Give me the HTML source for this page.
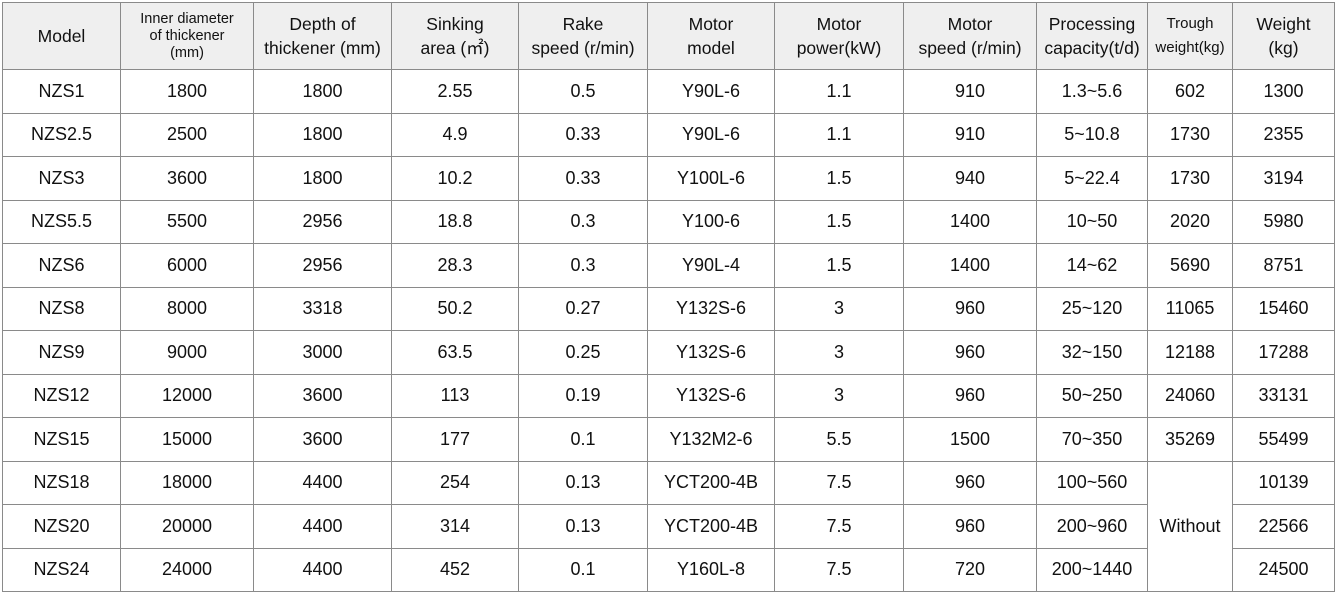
<!DOCTYPE html>
<html><head><meta charset="utf-8"><style>
body{margin:0;background:#fff;width:1337px;height:592px;overflow:hidden}
table{position:absolute;left:2px;top:2px;border-collapse:collapse;table-layout:fixed;font-family:"Liberation Sans",sans-serif;color:#111}
td{border:1.5px solid #8a8a8a;text-align:center;vertical-align:middle;padding:0;font-size:18px;height:42.5px}
tr.h td{background:#efefef;height:66px;font-size:17.5px;line-height:24px}
</style></head><body>
<table>
<colgroup><col style="width:118px"><col style="width:133px"><col style="width:138px"><col style="width:127px"><col style="width:129px"><col style="width:127px"><col style="width:129px"><col style="width:133px"><col style="width:111px"><col style="width:85px"><col style="width:102px"></colgroup>
<tr class="h"><td>Model</td><td style="font-size:14.5px;line-height:17px">Inner diameter<br>of thickener<br>(mm)</td><td>Depth of<br>thickener (mm)</td><td>Sinking<br>area (㎡)</td><td>Rake<br>speed (r/min)</td><td>Motor<br>model</td><td>Motor<br>power(kW)</td><td>Motor<br>speed (r/min)</td><td>Processing<br>capacity(t/d)</td><td style="font-size:15px">Trough<br>weight(kg)</td><td>Weight<br>(kg)</td></tr>
<tr><td>NZS1</td><td>1800</td><td>1800</td><td>2.55</td><td>0.5</td><td>Y90L-6</td><td>1.1</td><td>910</td><td>1.3~5.6</td><td>602</td><td>1300</td></tr>
<tr><td>NZS2.5</td><td>2500</td><td>1800</td><td>4.9</td><td>0.33</td><td>Y90L-6</td><td>1.1</td><td>910</td><td>5~10.8</td><td>1730</td><td>2355</td></tr>
<tr><td>NZS3</td><td>3600</td><td>1800</td><td>10.2</td><td>0.33</td><td>Y100L-6</td><td>1.5</td><td>940</td><td>5~22.4</td><td>1730</td><td>3194</td></tr>
<tr><td>NZS5.5</td><td>5500</td><td>2956</td><td>18.8</td><td>0.3</td><td>Y100-6</td><td>1.5</td><td>1400</td><td>10~50</td><td>2020</td><td>5980</td></tr>
<tr><td>NZS6</td><td>6000</td><td>2956</td><td>28.3</td><td>0.3</td><td>Y90L-4</td><td>1.5</td><td>1400</td><td>14~62</td><td>5690</td><td>8751</td></tr>
<tr><td>NZS8</td><td>8000</td><td>3318</td><td>50.2</td><td>0.27</td><td>Y132S-6</td><td>3</td><td>960</td><td>25~120</td><td>11065</td><td>15460</td></tr>
<tr><td>NZS9</td><td>9000</td><td>3000</td><td>63.5</td><td>0.25</td><td>Y132S-6</td><td>3</td><td>960</td><td>32~150</td><td>12188</td><td>17288</td></tr>
<tr><td>NZS12</td><td>12000</td><td>3600</td><td>113</td><td>0.19</td><td>Y132S-6</td><td>3</td><td>960</td><td>50~250</td><td>24060</td><td>33131</td></tr>
<tr><td>NZS15</td><td>15000</td><td>3600</td><td>177</td><td>0.1</td><td>Y132M2-6</td><td>5.5</td><td>1500</td><td>70~350</td><td>35269</td><td>55499</td></tr>
<tr><td>NZS18</td><td>18000</td><td>4400</td><td>254</td><td>0.13</td><td>YCT200-4B</td><td>7.5</td><td>960</td><td>100~560</td><td rowspan="3">Without</td><td>10139</td></tr>
<tr><td>NZS20</td><td>20000</td><td>4400</td><td>314</td><td>0.13</td><td>YCT200-4B</td><td>7.5</td><td>960</td><td>200~960</td><td>22566</td></tr>
<tr><td>NZS24</td><td>24000</td><td>4400</td><td>452</td><td>0.1</td><td>Y160L-8</td><td>7.5</td><td>720</td><td>200~1440</td><td>24500</td></tr>
</table>
</body></html>
